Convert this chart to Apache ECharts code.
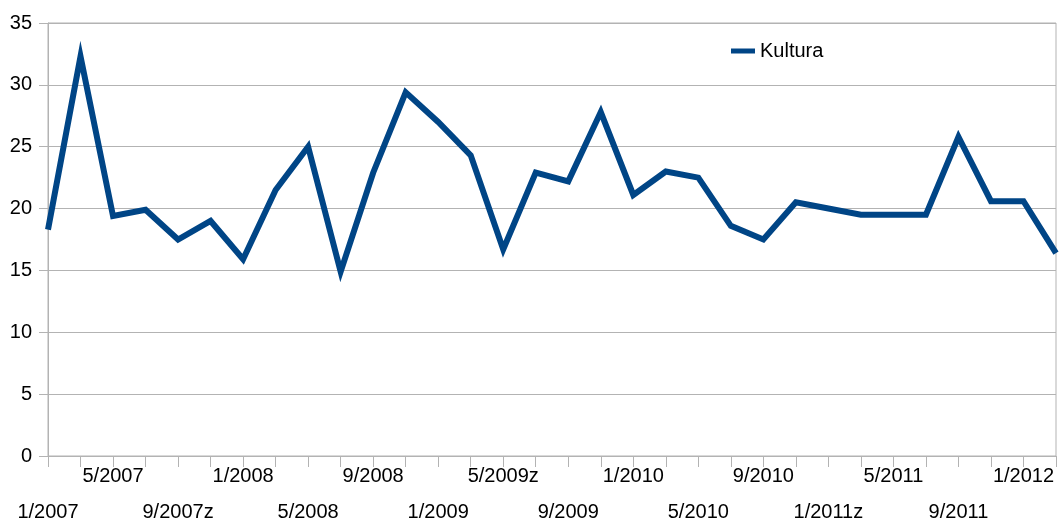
<!DOCTYPE html>
<html>
<head>
<meta charset="UTF-8">
<script src="https://cdn.jsdelivr.net/npm/echarts@6/dist/echarts.min.js"></script>
</head>
<body style="margin:0;background:#fff;">
<div id="chart" style="width:1059px;height:523px;"></div>
<script>
// bimonthly periods, every second one is labelled
var months = [
    '1/2007', '3/2007', '5/2007', '7/2007', '9/2007z', '11/2007',
    '1/2008', '3/2008', '5/2008', '7/2008', '9/2008', '11/2008',
    '1/2009', '3/2009', '5/2009z', '7/2009', '9/2009', '11/2009',
    '1/2010', '3/2010', '5/2010', '7/2010', '9/2010', '11/2010',
    '1/2011z', '3/2011', '5/2011', '7/2011', '9/2011', '11/2011',
    '1/2012', '3/2012'
];
var kultura = [
    18.3, 32.3, 19.4, 19.9, 17.5, 19.0, 15.9, 21.5, 25.0, 14.9,
    22.9, 29.4, 27.0, 24.3, 16.7, 22.9, 22.2, 27.8, 21.1, 23.0,
    22.5, 18.6, 17.5, 20.5, 20.0, 19.5, 19.5, 19.5, 25.8, 20.6,
    20.6, 16.4
];
var yTicks = {min: 0, max: 35, step: 5};

var gray = '#b3b3b3';
var font = 'Liberation Sans, Arial, sans-serif';

var chart = echarts.init(document.getElementById('chart'));
chart.setOption({
    animation: false,
    grid: {
        left: 48, right: 3, top: 23, bottom: 67,
        containLabel: false,
        outerBoundsMode: 'none',
        show: true, borderColor: gray, borderWidth: 1
    },
    legend: {
        data: ['Kultura'],
        left: 731, top: 41, padding: 0,
        icon: 'rect', itemWidth: 24, itemHeight: 5,
        textStyle: {fontFamily: font, fontSize: 20, color: '#000', lineHeight: 20}
    },
    xAxis: {
        type: 'category',
        data: months,
        boundaryGap: false,
        axisLine: {lineStyle: {color: gray, width: 1}},
        axisTick: {interval: 0, length: 11, lineStyle: {color: gray}},
        axisLabel: {
            interval: 1,
            margin: 2,
            fontFamily: font, fontSize: 20, color: '#000', lineHeight: 36,
            formatter: function (v, i) {
                return (i % 4 === 0) ? '\n' + v : v;
            }
        },
        splitLine: {show: false}
    },
    yAxis: {
        type: 'value',
        min: yTicks.min, max: yTicks.max, interval: yTicks.step,
        axisLine: {show: true, lineStyle: {color: gray, width: 1}},
        axisTick: {show: true, length: 9, lineStyle: {color: gray}},
        axisLabel: {margin: 16, fontFamily: font, fontSize: 20, color: '#000'},
        splitLine: {lineStyle: {color: gray, width: 1}}
    },
    series: [{
        name: 'Kultura',
        type: 'line',
        data: kultura,
        symbol: 'none',
        lineStyle: {color: '#004586', width: 6, join: 'miter'},
        itemStyle: {color: '#004586'}
    }]
});
</script>
</body>
</html>
